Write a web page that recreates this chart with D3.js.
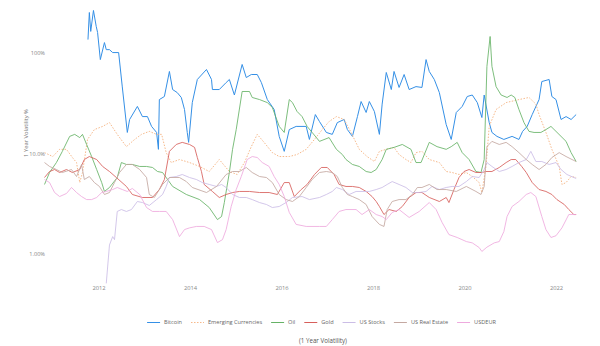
<!DOCTYPE html>
<html><head><meta charset="utf-8">
<script src="https://cdn.jsdelivr.net/npm/d3@7/dist/d3.min.js"></script>
<style>body{margin:0;background:#fff}svg{display:block}text{font-family:"Open Sans",sans-serif}</style>
</head><body><svg id="c" width="600" height="346"></svg>
<script>
const seriesNames = ["Bitcoin","Emerging Currencies","Oil","Gold","US Stocks","US Real Estate","USDEUR"];
const xTicks = [2012,2014,2016,2018,2020,2022];
const yTicks = [1,10,100];

const bitcoin = [[2011.77,136],[2011.80,253],[2011.83,164],[2011.89,265],[2011.95,184],[2011.98,160],[2012.04,86],[2012.13,127],[2012.17,108],[2012.24,108],[2012.31,101],[2012.44,101],[2012.52,46],[2012.63,16.2],[2012.68,21.8],[2012.85,29.4],[2012.96,23.3],[2013.07,23.3],[2013.16,18.6],[2013.27,16.2],[2013.31,11.0],[2013.33,34.4],[2013.44,36.9],[2013.55,65.5],[2013.62,43.3],[2013.72,40.4],[2013.81,36.1],[2013.88,27.4],[2013.94,16.2],[2013.97,12.9],[2014.05,32.1],[2014.16,54.5],[2014.36,68.5],[2014.47,54.5],[2014.49,43.3],[2014.64,43.3],[2014.79,50.8],[2014.86,54.5],[2014.97,38.2],[2015.14,76.9],[2015.23,57.0],[2015.34,61.1],[2015.47,61.1],[2015.56,50.8],[2015.69,34.4],[2015.84,27.4],[2015.95,14.8],[2016.06,10.5],[2016.17,17.3],[2016.32,18.6],[2016.54,18.6],[2016.61,13.8],[2016.74,24.4],[2016.83,20.8],[2016.98,16.2],[2017.11,15.5],[2017.22,20.3],[2017.37,21.8],[2017.44,17.3],[2017.55,14.8],[2017.66,23.3],[2017.74,32.9],[2017.85,25.6],[2017.92,32.9],[2018.03,26.2],[2018.14,15.5],[2018.20,31.0],[2018.29,64.0],[2018.40,43.3],[2018.46,65.5],[2018.57,45.4],[2018.68,61.1],[2018.79,43.3],[2018.94,46.3],[2019.07,45.4],[2019.16,86],[2019.23,65.5],[2019.34,54.5],[2019.45,40.4],[2019.60,19.4],[2019.71,13.8],[2019.82,25.6],[2019.95,29.4],[2020.06,36.9],[2020.17,38.2],[2020.28,32.1],[2020.38,22.8],[2020.43,38.2],[2020.54,20.3],[2020.60,16.2],[2020.71,14.8],[2020.86,13.8],[2021.04,14.8],[2021.19,13.8],[2021.27,16.6],[2021.37,18.6],[2021.48,24.4],[2021.63,34.4],[2021.69,52],[2021.85,54.5],[2021.91,36.9],[2022.00,34.4],[2022.11,21.8],[2022.22,23.3],[2022.33,21.8],[2022.44,24.4]];

const emergingCurrencies = [[2010.82,10.2],[2011.00,9.33],[2011.15,11.0],[2011.30,11.0],[2011.43,9.12],[2011.52,8.13],[2011.59,5.14],[2011.65,6.47],[2011.76,13.8],[2011.91,17.3],[2012.09,18.6],[2012.24,20.3],[2012.41,15.5],[2012.61,11.7],[2012.79,13.8],[2012.94,15.5],[2013.11,16.6],[2013.27,15.5],[2013.38,15.5],[2013.48,10.2],[2013.59,8.13],[2013.77,8.71],[2013.99,8.13],[2014.21,7.43],[2014.42,6.62],[2014.64,8.71],[2014.86,6.62],[2015.03,6.18],[2015.19,8.13],[2015.34,11.7],[2015.47,15.5],[2015.62,12.9],[2015.80,10.2],[2015.95,9.33],[2016.17,9.33],[2016.34,9.77],[2016.54,11.0],[2016.72,13.8],[2016.89,17.3],[2017.04,20.8],[2017.20,23.3],[2017.37,21.8],[2017.52,16.2],[2017.70,11.0],[2017.87,9.33],[2018.03,8.32],[2018.14,10.5],[2018.29,11.0],[2018.46,11.5],[2018.57,9.77],[2018.72,8.71],[2018.83,8.13],[2018.94,10.2],[2019.07,10.5],[2019.23,8.71],[2019.45,8.13],[2019.60,6.62],[2019.73,6.47],[2019.88,6.18],[2020.04,6.47],[2020.17,5.90],[2020.32,5.14],[2020.38,4.09],[2020.47,7.43],[2020.54,18.6],[2020.69,27.4],[2020.91,32.1],[2021.19,34.4],[2021.41,36.1],[2021.56,31.0],[2021.63,24.4],[2021.78,16.2],[2021.91,11.0],[2022.07,7.43],[2022.13,4.92],[2022.22,5.14],[2022.33,5.90],[2022.44,5.77]];

const oil = [[2010.82,4.92],[2010.93,6.47],[2011.08,8.13],[2011.21,10.5],[2011.37,14.8],[2011.48,15.5],[2011.59,14.4],[2011.65,15.5],[2011.74,12.3],[2011.85,9.33],[2011.96,6.93],[2012.07,5.14],[2012.13,4.19],[2012.24,4.59],[2012.41,5.77],[2012.50,8.13],[2012.61,7.78],[2012.74,7.78],[2012.90,7.43],[2013.05,7.43],[2013.18,7.26],[2013.29,6.62],[2013.40,6.47],[2013.62,4.70],[2013.92,3.91],[2014.21,3.48],[2014.42,2.90],[2014.60,2.20],[2014.69,2.36],[2014.75,3.25],[2014.86,6.47],[2014.93,11.0],[2015.01,17.3],[2015.14,41.4],[2015.30,41.4],[2015.36,36.1],[2015.52,34.4],[2015.69,32.1],[2015.80,28.7],[2015.95,18.6],[2016.06,16.2],[2016.17,34.4],[2016.24,32.1],[2016.34,26.2],[2016.45,23.3],[2016.56,18.6],[2016.67,16.2],[2016.83,13.2],[2017.04,14.4],[2017.20,11.0],[2017.33,9.77],[2017.41,8.71],[2017.55,7.78],[2017.70,7.43],[2017.85,6.62],[2017.96,6.47],[2018.07,6.93],[2018.20,8.71],[2018.29,11.0],[2018.46,11.5],[2018.64,12.3],[2018.83,11.0],[2018.94,8.13],[2019.05,8.13],[2019.23,12.9],[2019.40,11.7],[2019.60,11.0],[2019.71,11.7],[2019.84,12.9],[2019.95,10.2],[2020.10,8.71],[2020.25,6.62],[2020.36,6.47],[2020.43,8.71],[2020.49,73.5],[2020.56,146],[2020.60,73.5],[2020.69,46.3],[2020.80,38.2],[2020.93,36.1],[2021.02,38.2],[2021.10,36.1],[2021.19,27.4],[2021.30,20.3],[2021.41,16.6],[2021.52,16.2],[2021.67,16.2],[2021.78,17.3],[2021.89,18.6],[2022.00,16.6],[2022.11,14.8],[2022.22,13.2],[2022.33,10.2],[2022.44,8.32]];

const gold = [[2010.82,5.77],[2010.93,6.62],[2011.04,6.93],[2011.15,6.47],[2011.30,6.93],[2011.43,6.47],[2011.59,6.93],[2011.69,8.71],[2011.80,9.33],[2011.96,8.71],[2012.09,7.43],[2012.24,6.62],[2012.39,5.77],[2012.61,4.70],[2012.74,3.91],[2012.96,3.65],[2013.18,3.65],[2013.33,4.38],[2013.44,5.51],[2013.55,10.5],[2013.70,12.3],[2013.83,12.9],[2013.99,12.3],[2014.10,11.5],[2014.16,9.12],[2014.25,6.62],[2014.31,4.92],[2014.49,4.19],[2014.64,3.65],[2014.79,3.91],[2014.93,4.09],[2015.08,4.19],[2015.30,4.19],[2015.52,4.09],[2015.73,4.09],[2015.91,3.91],[2016.06,5.14],[2016.17,5.14],[2016.28,3.73],[2016.43,4.38],[2016.56,4.92],[2016.72,6.18],[2016.87,7.26],[2017.00,7.26],[2017.15,6.18],[2017.26,4.92],[2017.41,4.70],[2017.55,4.70],[2017.70,4.59],[2017.85,4.19],[2017.98,3.73],[2018.07,3.33],[2018.14,2.97],[2018.24,2.47],[2018.35,2.77],[2018.51,2.65],[2018.64,2.97],[2018.79,3.65],[2018.94,4.09],[2019.07,4.09],[2019.23,3.65],[2019.45,3.33],[2019.60,3.65],[2019.66,3.25],[2019.77,4.38],[2019.88,5.77],[2019.99,6.62],[2020.10,6.93],[2020.25,6.47],[2020.38,6.47],[2020.47,6.62],[2020.60,6.62],[2020.76,7.26],[2020.91,8.13],[2021.02,8.71],[2021.12,8.71],[2021.25,7.43],[2021.35,6.47],[2021.48,5.14],[2021.63,4.38],[2021.78,4.19],[2021.91,3.91],[2022.02,3.48],[2022.18,3.11],[2022.28,2.77],[2022.39,2.47],[2022.44,2.47]];

const usStocks = [[2012.17,0.51],[2012.24,1.23],[2012.31,1.49],[2012.35,1.39],[2012.41,2.65],[2012.50,2.77],[2012.61,2.65],[2012.72,2.77],[2012.85,3.33],[2012.96,3.25],[2013.11,3.04],[2013.27,3.48],[2013.40,3.91],[2013.48,4.70],[2013.55,5.77],[2013.70,5.90],[2013.83,6.18],[2013.99,5.77],[2014.14,5.51],[2014.27,5.14],[2014.42,4.92],[2014.58,4.70],[2014.69,4.92],[2014.79,4.59],[2014.93,3.91],[2015.08,3.65],[2015.23,3.65],[2015.36,3.48],[2015.52,3.25],[2015.67,3.11],[2015.80,2.90],[2015.95,2.97],[2016.10,3.25],[2016.24,3.65],[2016.45,3.73],[2016.61,3.48],[2016.83,3.65],[2016.98,3.91],[2017.11,4.19],[2017.20,4.59],[2017.33,4.38],[2017.48,3.91],[2017.63,4.19],[2017.76,4.19],[2017.92,4.19],[2018.07,4.38],[2018.20,4.59],[2018.31,4.92],[2018.42,5.26],[2018.57,4.92],[2018.72,4.59],[2018.86,4.09],[2019.01,4.09],[2019.16,4.19],[2019.29,4.70],[2019.45,4.38],[2019.60,4.59],[2019.73,4.70],[2019.88,4.70],[2020.04,5.26],[2020.17,5.90],[2020.32,5.77],[2020.43,6.93],[2020.49,8.13],[2020.60,7.43],[2020.76,6.62],[2020.91,6.93],[2021.04,7.43],[2021.19,8.13],[2021.35,8.71],[2021.45,10.5],[2021.56,8.32],[2021.69,8.32],[2021.85,7.78],[2022.00,8.13],[2022.11,6.93],[2022.24,6.18],[2022.44,5.64]];

const usRealEstate = [[2010.82,8.13],[2010.93,7.43],[2011.08,6.93],[2011.21,6.47],[2011.41,6.93],[2011.52,5.90],[2011.63,7.78],[2011.69,5.51],[2011.80,5.90],[2011.91,5.14],[2012.02,4.70],[2012.13,3.91],[2012.24,4.09],[2012.35,5.14],[2012.46,6.47],[2012.61,7.78],[2012.74,7.78],[2012.90,6.93],[2013.05,5.77],[2013.11,3.91],[2013.22,3.65],[2013.40,4.92],[2013.55,5.77],[2013.77,5.77],[2013.92,5.26],[2014.05,4.59],[2014.36,4.09],[2014.58,4.70],[2014.79,6.18],[2014.93,6.62],[2015.08,6.62],[2015.23,7.26],[2015.36,6.47],[2015.52,5.90],[2015.67,5.77],[2015.80,5.14],[2015.95,3.91],[2016.10,3.48],[2016.24,3.33],[2016.39,3.73],[2016.54,4.59],[2016.67,5.51],[2016.83,6.47],[2016.98,6.62],[2017.11,6.47],[2017.22,5.90],[2017.33,4.59],[2017.44,3.91],[2017.55,3.73],[2017.70,3.48],[2017.85,3.11],[2017.98,2.36],[2018.14,1.97],[2018.24,1.88],[2018.31,2.77],[2018.42,3.33],[2018.57,3.48],[2018.72,3.48],[2018.86,3.91],[2018.97,4.59],[2019.07,4.59],[2019.23,4.92],[2019.40,4.38],[2019.60,4.38],[2019.82,4.19],[2020.04,4.70],[2020.25,4.19],[2020.36,3.91],[2020.43,4.70],[2020.49,11.7],[2020.60,13.2],[2020.76,12.3],[2020.91,12.9],[2021.04,11.7],[2021.19,10.2],[2021.35,8.71],[2021.48,7.78],[2021.63,6.93],[2021.78,7.78],[2021.91,9.12],[2022.07,10.2],[2022.22,9.33],[2022.35,8.71],[2022.44,8.32]];

const usdeur = [[2010.82,5.51],[2010.93,5.14],[2011.04,4.09],[2011.15,3.73],[2011.30,4.00],[2011.41,4.59],[2011.52,4.09],[2011.63,3.73],[2011.74,3.48],[2011.85,3.48],[2011.96,3.65],[2012.07,4.09],[2012.17,4.19],[2012.31,4.38],[2012.41,4.59],[2012.52,4.38],[2012.63,4.19],[2012.74,4.49],[2012.90,3.91],[2013.05,2.90],[2013.18,2.65],[2013.33,2.65],[2013.48,2.65],[2013.62,2.20],[2013.77,1.49],[2013.88,1.75],[2013.99,1.82],[2014.14,1.88],[2014.31,1.88],[2014.47,1.75],[2014.60,1.30],[2014.71,1.39],[2014.79,1.75],[2014.90,2.97],[2015.01,4.38],[2015.12,5.90],[2015.25,8.71],[2015.36,9.33],[2015.47,9.12],[2015.58,8.13],[2015.73,7.43],[2015.84,5.90],[2015.95,4.92],[2016.06,3.73],[2016.17,2.59],[2016.32,1.97],[2016.54,1.88],[2016.83,1.88],[2016.98,1.88],[2017.11,2.20],[2017.26,2.65],[2017.41,2.77],[2017.63,2.77],[2017.76,2.47],[2017.92,2.77],[2018.07,2.47],[2018.20,2.36],[2018.29,2.20],[2018.42,2.59],[2018.57,2.77],[2018.79,2.31],[2019.01,2.65],[2019.23,3.25],[2019.38,2.77],[2019.51,2.06],[2019.66,1.56],[2019.84,1.46],[2020.04,1.33],[2020.17,1.29],[2020.32,1.16],[2020.38,1.06],[2020.49,1.17],[2020.65,1.29],[2020.76,1.33],[2020.86,1.67],[2020.93,2.36],[2021.04,2.97],[2021.19,3.33],[2021.35,3.91],[2021.45,4.09],[2021.56,3.73],[2021.69,2.36],[2021.78,1.75],[2021.89,1.46],[2022.00,1.52],[2022.13,1.82],[2022.28,2.47],[2022.44,2.47]];

const seriesData = [bitcoin, emergingCurrencies, oil, gold, usStocks, usRealEstate, usdeur];
const colors = ["#3590e6","#f7b98a","#66b266","#d75f5b","#cbbde6","#c4a8a1","#eeaade"];
const dashes = [null,"1.5,1.5",null,null,null,null,null];
const widths = [1,1,0.85,0.85,0.85,0.85,0.85];

const svg = d3.select("#c");
const x = d3.scaleLinear().domain([2012,2022]).range([98.5,556]);
const y = d3.scaleLog().domain([1,100]).range([254,53]);

const line = d3.line().x(d=>x(d[0])).y(d=>y(d[1]));

const yAxis = svg.append("g").attr("transform","translate(47,0)")
  .call(d3.axisLeft(y).tickValues(yTicks).tickFormat(d=>d3.format(".3r")(d)+"%").tickSize(0).tickPadding(2));
yAxis.select(".domain").remove();
yAxis.selectAll("text").attr("fill","#888").style("font-size","5.6px").style("font-family","'Open Sans',sans-serif");

const xAxis = svg.append("g").attr("transform","translate(0,284)")
  .call(d3.axisBottom(x).tickValues(xTicks).tickFormat(d3.format("d")).tickSize(0).tickPadding(2));
xAxis.select(".domain").remove();
xAxis.selectAll("text").attr("fill","#888").style("font-size","5.8px").style("font-family","'Open Sans',sans-serif");

svg.append("text").attr("transform","translate(26,133) rotate(-90)")
  .attr("text-anchor","middle").attr("dy","0.35em")
  .attr("fill","#777").style("font-size","5.8px").text("1 Year Volatility %");

svg.append("g").selectAll("path").data(seriesData).join("path")
  .attr("d",line).attr("fill","none")
  .attr("stroke",(d,i)=>colors[i])
  .attr("stroke-width",(d,i)=>widths[i])
  .attr("stroke-dasharray",(d,i)=>dashes[i])
  .attr("stroke-linejoin","round");

// legend
const lg = svg.append("g");
let cx = 0;
seriesNames.forEach((name,i)=>{
  const g = lg.append("g").attr("transform",`translate(${cx},0)`);
  g.append("line").attr("x1",0).attr("x2",13).attr("y1",0).attr("y2",0)
    .attr("stroke",colors[i]).attr("stroke-width",1)
    .attr("stroke-dasharray",dashes[i]);
  const t = g.append("text").attr("x",17).attr("dy","0.35em")
    .attr("fill","#666").style("font-size","5.6px").text(name);
  const w = t.node().getComputedTextLength();
  cx += 17 + w + 9;
});
const totalW = cx - 9;
lg.attr("transform",`translate(${321.5 - totalW/2},322.5)`);

svg.append("text").attr("x",323).attr("y",343).attr("text-anchor","middle")
  .attr("fill","#555").style("font-size","6.2px").text("(1 Year Volatility)");
</script></body></html>
